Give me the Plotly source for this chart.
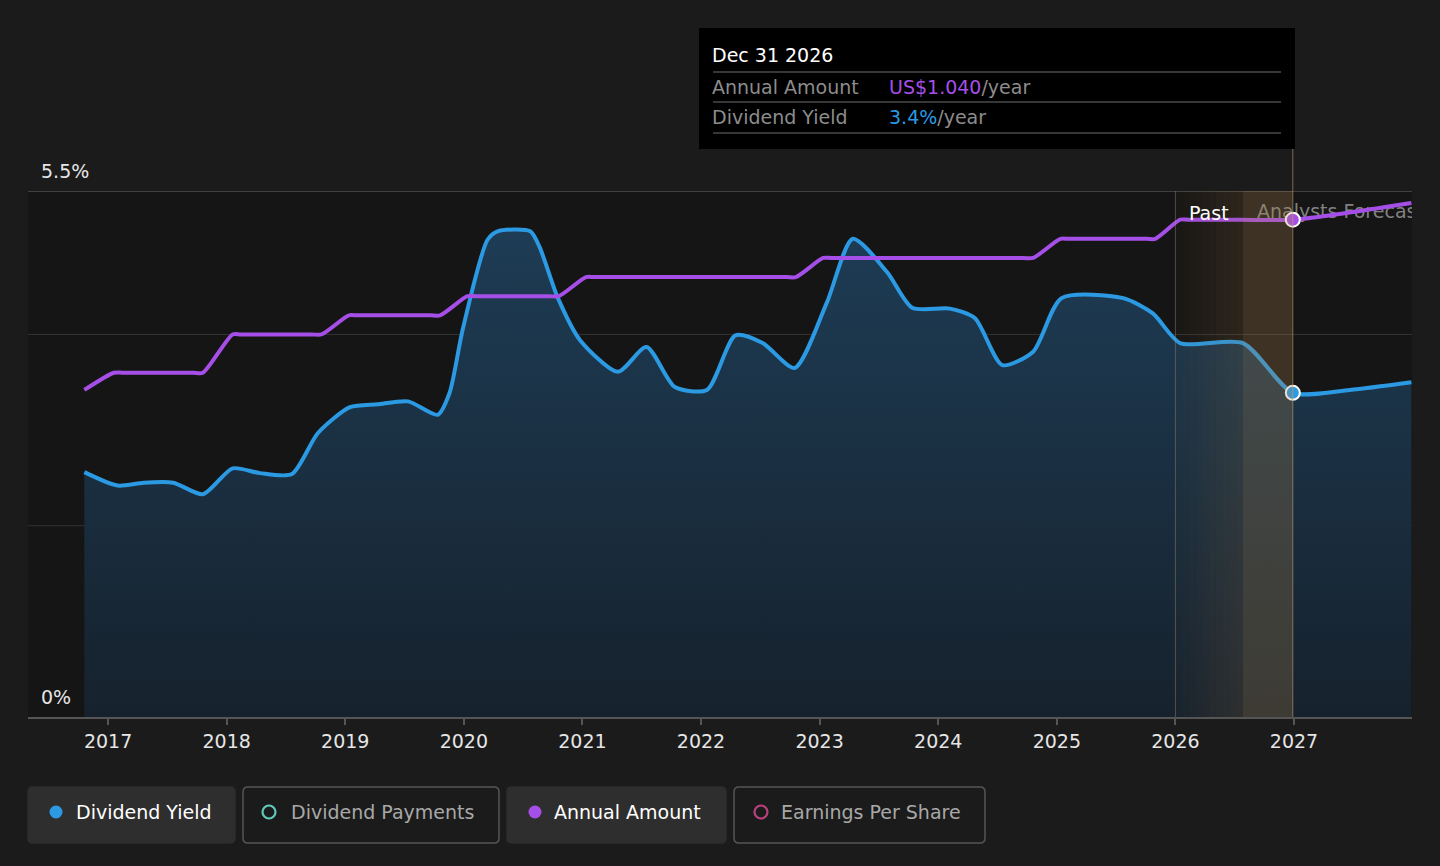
import plotly.graph_objects as go

# ---------------- data ----------------
yield_years = [2016.80, 2017.08, 2017.30, 2017.55, 2017.80, 2018.05, 2018.28, 2018.55, 2018.77,
               2019.04, 2019.27, 2019.53, 2019.78, 2019.88, 2019.99, 2020.20, 2020.29, 2020.56,
               2020.64, 2020.79, 2020.98, 2021.30, 2021.54, 2021.78, 2022.05, 2022.29, 2022.52,
               2022.79, 2023.06, 2023.28, 2023.57, 2023.78, 2024.10, 2024.31, 2024.54, 2024.80,
               2025.04, 2025.56, 2025.81, 2026.04, 2026.57, 2026.99, 2027.47, 2027.99]
yield_pct = [2.56, 2.42, 2.45, 2.45, 2.33, 2.60, 2.55, 2.54, 2.97,
             3.24, 3.27, 3.30, 3.16, 3.39, 4.05, 4.99, 5.08, 5.08,
             4.91, 4.39, 3.94, 3.61, 3.87, 3.45, 3.42, 3.99, 3.91,
             3.65, 4.33, 5.00, 4.65, 4.28, 4.27, 4.17, 3.68, 3.82,
             4.38, 4.38, 4.22, 3.91, 3.91, 3.39, 3.42, 3.50]

amount_years = [2016.80, 2017.05, 2017.12, 2017.45, 2017.72, 2017.80, 2018.05, 2018.12, 2018.45,
                2018.72, 2018.80, 2019.03, 2019.10, 2019.45, 2019.72, 2019.80, 2020.03, 2020.10,
                2020.45, 2020.72, 2020.80, 2021.03, 2021.10, 2021.90, 2022.72, 2022.80, 2023.03,
                2023.10, 2023.90, 2024.72, 2024.80, 2025.03, 2025.10, 2025.45, 2025.76, 2025.83,
                2026.04, 2026.11, 2026.55, 2026.99, 2027.99]
amount_usd = [0.684, 0.72, 0.72, 0.72, 0.72, 0.72, 0.80, 0.80, 0.80,
              0.80, 0.80, 0.84, 0.84, 0.84, 0.84, 0.84, 0.88, 0.88,
              0.88, 0.88, 0.88, 0.92, 0.92, 0.92, 0.92, 0.92, 0.96,
              0.96, 0.96, 0.96, 0.96, 1.00, 1.00, 1.00, 1.00, 1.00,
              1.04, 1.04, 1.04, 1.04, 1.075]

x_ticks = [2017, 2018, 2019, 2020, 2021, 2022, 2023, 2024, 2025, 2026, 2027]
tick_labels = [str(t) for t in x_ticks]
y_labels = ["0%", "5.5%"]
gridlines = [2.0, 4.0]

hover_year = 2026.99
hover_yield = 3.39
hover_amount = 1.04
past_start = 2026.0
today = 2026.57

legend_items = ["Dividend Yield", "Dividend Payments", "Annual Amount", "Earnings Per Share"]

# ---------------- style ----------------
W, H = 1440, 866
L, R, T, B = 28, 1412, 191, 717
PAPER = "#1b1b1b"
PLOT = "#151515"
BLUE = "#2b9ae3"
PURPLE = "#a64fe8"
FONT = "DejaVu Sans"
FS = 19

def px(x):
    return (x - L) / (R - L)

def py(y):
    return (B - y) / (B - T)

fig = go.Figure()

fig.add_trace(go.Scatter(
    x=yield_years, y=yield_pct, mode="lines",
    line=dict(color=BLUE, width=4, shape="spline", smoothing=0.7),
    fill="tozeroy",
    fillgradient=dict(type="vertical",
                      colorscale=[[0, "rgba(22,34,46,0.95)"], [1, "rgba(30,62,88,0.95)"]]),
    hoverinfo="skip", showlegend=False))

fig.add_trace(go.Scatter(
    x=amount_years, y=amount_usd, mode="lines", yaxis="y2",
    line=dict(color=PURPLE, width=4, shape="spline", smoothing=0.7),
    hoverinfo="skip", showlegend=False))

fig.add_trace(go.Scatter(
    x=[hover_year], y=[hover_yield], mode="markers",
    marker=dict(size=14, color=BLUE, line=dict(color="white", width=2)),
    hoverinfo="skip", showlegend=False))
fig.add_trace(go.Scatter(
    x=[hover_year], y=[hover_amount], mode="markers", yaxis="y2",
    marker=dict(size=14, color=PURPLE, line=dict(color="white", width=2)),
    hoverinfo="skip", showlegend=False))

# clipped "Analysts Forecast" label
fig.add_trace(go.Scatter(
    x=[today + 14 / 118.6], y=[5.5 * (B - 213) / (B - T)], mode="text",
    text=["Analysts Forecast"], textposition="middle right",
    textfont=dict(family=FONT, size=FS, color="rgba(160,160,160,0.8)"),
    cliponaxis=True, hoverinfo="skip", showlegend=False))

shapes = []
for g in gridlines:
    shapes.append(dict(type="line", xref="paper", yref="y", x0=0, x1=1, y0=g, y1=g,
                       line=dict(color="#333333", width=1), layer="below"))
shapes.append(dict(type="line", xref="paper", yref="y", x0=0, x1=1, y0=5.5, y1=5.5,
                   line=dict(color="#4f4f4f", width=1.5), layer="below"))

# past fade band
n = 10
step = (today - past_start) / n
for i in range(n):
    a = 0.02 + 0.16 * (i + 1) / n
    shapes.append(dict(type="rect", xref="x", yref="paper", x0=past_start + i * step,
                       x1=past_start + (i + 1) * step, y0=0, y1=1,
                       fillcolor=f"rgba(150,112,60,{a:.3f})", line=dict(width=0), layer="above"))
shapes.append(dict(type="rect", xref="x", yref="paper", x0=today, x1=hover_year, y0=0, y1=1,
                   fillcolor="rgba(170,130,75,0.27)", line=dict(width=0), layer="above"))
shapes.append(dict(type="line", xref="x", yref="paper", x0=past_start, x1=past_start, y0=0, y1=1,
                   line=dict(color="rgba(160,140,110,0.45)", width=1), layer="above"))
shapes.append(dict(type="line", xref="x", yref="paper", x0=hover_year, x1=hover_year,
                   y0=0, y1=py(149), line=dict(color="rgba(190,160,115,0.6)", width=1), layer="above"))

# tooltip box
shapes.append(dict(type="rect", xref="paper", yref="paper", x0=px(699), x1=px(1295),
                   y0=py(149), y1=py(28), fillcolor="#000000", line=dict(width=0), layer="above"))
for yy in [72, 102, 133]:
    shapes.append(dict(type="line", xref="paper", yref="paper", x0=px(713), x1=px(1281),
                       y0=py(yy), y1=py(yy), line=dict(color="#4a4a4a", width=1.5), layer="above"))

def rounded(x0, y0, x1, y1, r=5):
    rx = r / (R - L)
    ry = r / (B - T)
    X0, X1 = px(x0), px(x1)
    Y0, Y1 = py(y1), py(y0)
    return (f"M {X0+rx},{Y1} L {X1-rx},{Y1} Q {X1},{Y1} {X1},{Y1-ry} "
            f"L {X1},{Y0+ry} Q {X1},{Y0} {X1-rx},{Y0} L {X0+rx},{Y0} "
            f"Q {X0},{Y0} {X0},{Y0+ry} L {X0},{Y1-ry} Q {X0},{Y1} {X0+rx},{Y1} Z")

boxes = [(28, 235, True), (243, 499, False), (507, 726, True), (734, 985, False)]
for (x0, x1, filled) in boxes:
    shapes.append(dict(type="path", xref="paper", yref="paper", path=rounded(x0, 787, x1, 843),
                       fillcolor="#2e2e2e" if filled else "#1b1b1b",
                       line=dict(color="#2e2e2e" if filled else "#555555", width=1.5)))

dots = [(56, BLUE, True), (269, "#5fc9b8", False), (535, PURPLE, True), (761, "#b8427f", False)]
for (cx, col, filled) in dots:
    r = 6.5
    shapes.append(dict(type="circle", xref="paper", yref="paper",
                       x0=px(cx - r), x1=px(cx + r), y0=py(812 + r), y1=py(812 - r),
                       fillcolor=col if filled else "rgba(0,0,0,0)",
                       line=dict(color=col, width=0 if filled else 2.2)))

annotations = []
def ann(text, x, y, color, size=FS, xanchor="left"):
    annotations.append(dict(text=text, x=px(x), y=py(y), xref="paper", yref="paper",
                            showarrow=False, xanchor=xanchor, yanchor="middle",
                            borderpad=0, borderwidth=0,
                            font=dict(family=FONT, size=size, color=color)))

ann(y_labels[1], 41, 171, "#e6e6e6")
ann(y_labels[0], 41, 697, "#e6e6e6")
ann("Past", 1229, 213, "#ffffff", xanchor="right")

ann("Dec 31 2026", 712, 55, "#ffffff")
ann("Annual Amount", 712, 87, "#8c8c8c")
ann(f"<span style='color:{PURPLE}'>US${hover_amount:.3f}</span>/year", 889, 87, "#8c8c8c")
ann("Dividend Yield", 712, 117, "#8c8c8c")
ann(f"<span style='color:{BLUE}'>{hover_yield:.1f}%</span>/year", 889, 117, "#8c8c8c")

legend_x = [76, 291, 554, 781]
legend_col = ["#ffffff", "#a8a8a8", "#ffffff", "#a8a8a8"]
for t, x, c in zip(legend_items, legend_x, legend_col):
    ann(t, x, 812, c)

fig.update_layout(
    width=W, height=H,
    paper_bgcolor=PAPER, plot_bgcolor=PLOT,
    margin=dict(l=L, r=W - R, t=T, b=H - B, pad=0),
    font=dict(family=FONT, size=FS, color="#dddddd"),
    xaxis=dict(range=[2016.325, 2027.995], tickvals=x_ticks, ticktext=tick_labels,
               showgrid=False, zeroline=False, showline=True, linecolor="#555555", linewidth=1.5,
               ticks="outside", ticklen=6, tickcolor="#555555", tickwidth=1.5,
               tickfont=dict(family=FONT, size=FS, color="#e6e6e6")),
    yaxis=dict(range=[0, 5.5], showgrid=False, zeroline=False, showticklabels=False,
               fixedrange=True),
    yaxis2=dict(range=[0, 1.1], overlaying="y", showgrid=False, zeroline=False,
                showticklabels=False, visible=False),
    shapes=shapes, annotations=annotations,
    showlegend=False, hovermode=False,
)

fig.write_html("out.html", config={"displayModeBar": False},
               post_script="document.body.style.margin='0';document.body.style.padding='0';"
                           "document.body.style.background='#1b1b1b';")
